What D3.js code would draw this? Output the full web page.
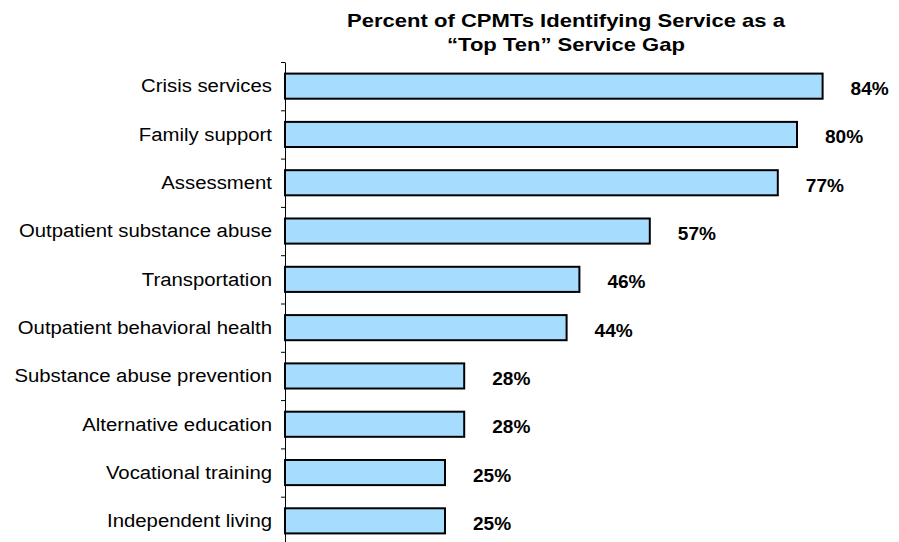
<!DOCTYPE html>
<html>
<head>
<meta charset="utf-8">
<title>service-gap-barchart</title>
<style>
body { margin: 0; background: #fff; font-family: "Liberation Sans", Arial, sans-serif; }
.bar { fill: #a6ddff; stroke: #000; stroke-width: 2px; }
.val { font-weight: bold; font-size: 18px; }
.cat text { font-size: 18px; fill: #000; }
</style>
</head>
<body>
<script src="https://cdn.jsdelivr.net/npm/d3@7"></script>
<script>
// categories, top to bottom
var categories = ["Crisis services", "Family support", "Assessment", "Outpatient substance abuse",
    "Transportation", "Outpatient behavioral health", "Substance abuse prevention",
    "Alternative education", "Vocational training", "Independent living"];
var percents = [84, 80, 77, 57, 46, 44, 28, 28, 25, 25];
var titleLines = ["Percent of CPMTs Identifying Service as a", "\u201CTop Ten\u201D Service Gap"];

var W = 899, H = 542;
var plotLeft = 285, plotTop = 62, plotBottom = 545;

var svg = d3.select("body").append("svg")
    .attr("width", W)
    .attr("height", H);

var y = d3.scaleBand()
    .domain(categories)
    .range([plotTop, plotBottom])
    .paddingInner(0.48)
    .paddingOuter(0.24);

// tick marks sit between the bars
var yTick = d3.scaleLinear().domain([0, categories.length]).range([plotTop, plotBottom]);

var x = d3.scaleLinear().domain([0, 100]).range([plotLeft, plotLeft + 640]);

svg.selectAll(".bar")
    .data(percents)
    .enter()
    .append("rect")
    .attr("class", "bar")
    .attr("x", x(0))
    .attr("y", function (d, i) { return y(categories[i]); })
    .attr("width", function (d) { return x(d) - x(0); })
    .attr("height", y.bandwidth());

// the original text is a bit wider than the font, so stretch it horizontally
svg.selectAll(".val")
    .data(percents)
    .enter()
    .append("text")
    .attr("class", "val")
    .attr("transform", function (d, i) {
        return "translate(" + (x(d) + 28) + "," + (y(categories[i]) + y.bandwidth() / 2) + ") scale(1.06,1)";
    })
    .attr("dy", "0.5em")
    .text(function (d) { return d + "%"; });

// axis line + ticks
var ax = svg.append("g")
    .attr("transform", "translate(" + plotLeft + ",0)")
    .call(d3.axisLeft(yTick).tickValues(d3.range(0, categories.length + 1)).tickSize(4).tickSizeOuter(0).tickFormat(""));
ax.selectAll("path, line").attr("stroke", "#000").attr("stroke-width", 1);

// category labels
var cat = svg.append("g")
    .attr("class", "cat")
    .attr("transform", "translate(" + (plotLeft - 13) + ",0) scale(1.13,1)")
    .call(d3.axisLeft(y).tickSize(0).tickPadding(0));
cat.select(".domain").remove();
cat.selectAll("text").attr("font-family", null).attr("font-size", null).attr("dy", "0.35em");

svg.selectAll(".title")
    .data(titleLines)
    .enter()
    .append("text")
    .attr("class", "title")
    .attr("transform", function (d, i) { return "translate(566," + (27 + i * 24) + ") scale(1.16,1)"; })
    .attr("text-anchor", "middle")
    .style("font-weight", "bold")
    .style("font-size", "19px")
    .text(function (d) { return d; });
</script>
</body>
</html>
